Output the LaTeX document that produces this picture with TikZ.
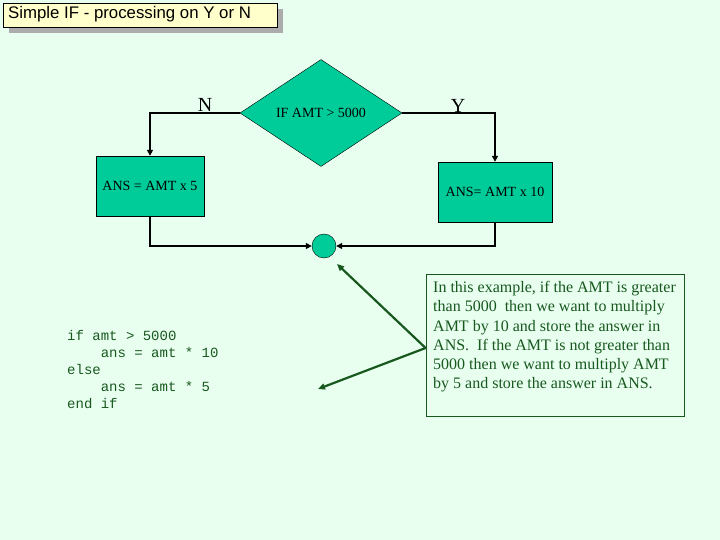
\documentclass[tikz,border=0pt]{standalone}
\usepackage{fontspec}
\setmainfont{Liberation Serif}
\setsansfont{Liberation Sans}
\setmonofont{Liberation Mono}
\usetikzlibrary{shapes.geometric,arrows.meta,positioning}
\definecolor{bgmint}{RGB}{232,255,240}
\definecolor{boxteal}{RGB}{0,204,153}
\definecolor{notegreen}{RGB}{24,88,30}
\definecolor{titleyellow}{RGB}{255,255,204}
\tikzset{
  flowbox/.style={draw=black, fill=boxteal, rectangle, inner sep=0pt, font=\fontsize{14}{16}\selectfont},
  flowline/.style={draw=black, line width=1.8pt, -{Triangle[length=6pt,width=6pt]}},
  noteline/.style={draw=notegreen, line width=2.2pt, -{Triangle[length=7pt,width=6pt]}},
  branchlabel/.style={font=\fontsize{20}{22}\selectfont},
}
\begin{document}
\begin{tikzpicture}[x=1pt,y=-1pt]
                \fill[bgmint] (0,0) rectangle (720,540);
                \useasboundingbox (0,0) rectangle (720,540);
                % title
                \fill[gray!65] (9,9) rectangle (283,33);
                \draw[fill=titleyellow] (3,3) rectangle (277,27);
                \node[anchor=west, inner sep=0pt, font=\sffamily\fontsize{16.8}{18}\selectfont] (title) at (8,14) {Simple IF - processing on Y or N};
                % flow chart
                \node[diamond, draw=black, fill=boxteal, aspect=1.51, minimum width=162pt, minimum height=107pt, inner sep=0pt, font=\fontsize{14}{16}\selectfont] (decision) at (321,113) {IF AMT > 5000};
                \node[flowbox, minimum width=108pt, minimum height=60pt] (nobox) at (150,186) {ANS = AMT x 5};
                \node[flowbox, minimum width=114pt, minimum height=60pt] (yesbox) at (495,192) {ANS= AMT x 10};
                \node[circle, draw=black, fill=boxteal, minimum size=24pt, inner sep=0pt] (joint) at (324,246) {};
                \node[branchlabel] (nolabel) at (205,105) {N};
                \node[branchlabel] (yeslabel) at (458,106) {Y};
                \draw[flowline] (decision.west) -| (nobox.north);
                \draw[flowline] (decision.east) -| (yesbox.north);
                \draw[flowline] (nobox.south) |- (joint.west);
                \draw[flowline] (yesbox.south) |- (joint.east);
                % note and code
                \node[draw=notegreen, line width=0.8pt, minimum width=258pt, minimum height=142pt, inner sep=0pt] (note) at (555,345) {};
                \node[anchor=north west, inner sep=0pt, align=left, text=notegreen, font=\fontsize{16}{19.3}\selectfont] (notetext) at (433,281) {In this example, if the AMT is greater\\than 5000~ then we want to multiply\\AMT by 10 and store the answer in\\ANS.~ If the AMT is not greater than\\5000 then we want to multiply AMT\\by 5 and store the answer in ANS.};
                \node[anchor=north west, inner sep=0pt, align=left, text=notegreen, font=\ttfamily\fontsize{14}{17}\selectfont] (code) at (67,330) {if amt > 5000\\\phantom{0000}ans = amt * 10\\else\\\phantom{0000}ans = amt * 5\\end if};
                \coordinate (uptip) at (337,264);
                \coordinate (downtip) at (318,389);
                \draw[noteline] ([yshift=-3pt]note.west) -- (uptip);
                \draw[noteline] ([yshift=-3pt]note.west) -- (downtip);
            \end{tikzpicture}
\end{document}
